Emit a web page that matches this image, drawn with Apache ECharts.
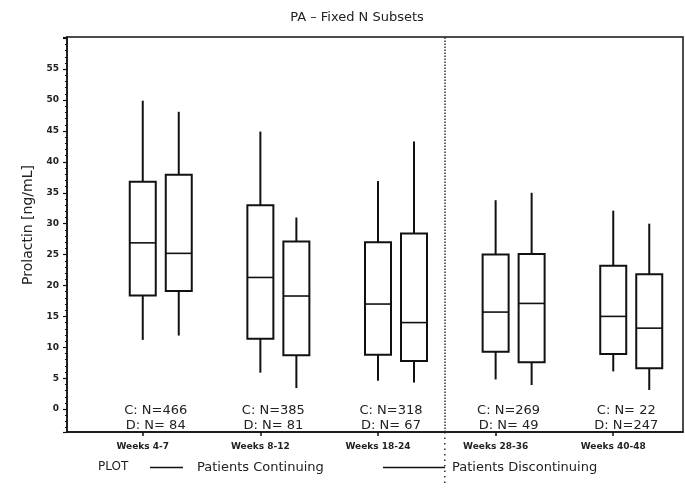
<!DOCTYPE html>
<html><head><meta charset="utf-8">
<script src="https://cdn.jsdelivr.net/npm/echarts@6/dist/echarts.min.js"></script>
<style>html,body{margin:0;padding:0;background:#fff}#c{width:685px;height:492px}</style>
</head><body><div id="c"></div>
<script>
const categories = ['Weeks 4-7', 'Weeks 8-12', 'Weeks 18-24', 'Weeks 28-36', 'Weeks 40-48'];
// each box: [min, Q1, median, Q3, max]
const continuing = [
  [11.2, 18.4, 26.9, 36.8, 49.9],
  [5.9, 11.4, 21.3, 33.0, 44.9],
  [4.6, 8.8, 17.0, 27.0, 36.9],
  [4.8, 9.3, 15.7, 25.0, 33.8],
  [6.1, 8.9, 15.0, 23.2, 32.1]
];
const discontinuing = [
  [11.9, 19.1, 25.2, 37.9, 48.1],
  [3.4, 8.7, 18.3, 27.1, 31.0],
  [4.3, 7.8, 14.0, 28.4, 43.3],
  [3.9, 7.6, 17.1, 25.1, 35.0],
  [3.1, 6.6, 13.1, 21.8, 30.0]
];
const nContinuing = [466, 385, 318, 269, 22];
const nDiscontinuing = [84, 81, 67, 49, 247];
const yTickLabels = [0, 5, 10, 15, 20, 25, 30, 35, 40, 45, 50, 55];

const INK = '#111';
const FONT = 'DejaVu Sans';
const D_SHIFT_PX = 36;   // D box drawn to the right of the C box
const HALF_BOX = 13;
const DIVIDER_X = 3.568;

function boxRenderer(shiftPx) {
  return function (params, api) {
    const x = api.value(0);
    const pMin = api.coord([x, api.value(1)]);
    const pQ1 = api.coord([x, api.value(2)]);
    const pMed = api.coord([x, api.value(3)]);
    const pQ3 = api.coord([x, api.value(4)]);
    const pMax = api.coord([x, api.value(5)]);
    const cx = pMin[0] + shiftPx;
    const st = { stroke: INK, lineWidth: 2 };
    return {
      type: 'group',
      children: [
        { type: 'line', shape: { x1: cx, y1: pMin[1], x2: cx, y2: pQ1[1] }, style: st },
        { type: 'line', shape: { x1: cx, y1: pQ3[1], x2: cx, y2: pMax[1] }, style: st },
        { type: 'rect', shape: { x: cx - HALF_BOX, y: pQ3[1], width: 2 * HALF_BOX, height: pQ1[1] - pQ3[1] },
          style: { fill: '#fff', stroke: INK, lineWidth: 2 } },
        { type: 'line', shape: { x1: cx - HALF_BOX, y1: pMed[1], x2: cx + HALF_BOX, y2: pMed[1] },
          style: { stroke: INK, lineWidth: 1.6 } }
      ]
    };
  };
}

function nText(n) { return n < 100 ? 'N= ' + n : 'N=' + n; }

const chart = echarts.init(document.getElementById('c'), null, { renderer: 'canvas' });
const option = {
  animation: false,
  backgroundColor: '#fff',
  title: {
    text: 'PA \u2013 Fixed N Subsets', left: 352, top: 6, textAlign: 'center',
    textStyle: { fontFamily: FONT, fontSize: 13, fontWeight: 'normal', color: '#222' }
  },
  grid: { left: 67, right: 2, top: 37, bottom: 60, show: true, borderColor: INK, borderWidth: 1.5, backgroundColor: 'transparent' },
  xAxis: {
    type: 'value', min: 0.356, max: 5.593, splitNumber: 5,
    axisLine: { onZero: false, lineStyle: { color: INK, width: 1.5 } },
    axisTick: { show: true, length: 4, lineStyle: { color: INK, width: 1.5 } },
    splitLine: { show: false },
    axisLabel: {
      margin: 10, fontFamily: FONT, fontSize: 9, fontWeight: 'bold', color: '#222',
      showMinLabel: false, showMaxLabel: false,
      formatter: function (v) {
        const r = Math.round(v);
        return (Math.abs(v - r) < 1e-6 && r >= 1 && r <= categories.length) ? categories[r - 1] : '';
      }
    }
  },
  yAxis: {
    type: 'value', min: -3.7, max: 60.2, splitNumber: 12,
    axisLine: { show: true, onZero: false, lineStyle: { color: INK, width: 1.5 } },
    axisTick: { show: true, length: 4, lineStyle: { color: INK, width: 1.2 } },
    minorTick: { show: true, splitNumber: 5, length: 2, lineStyle: { color: INK, width: 1 } },
    splitLine: { show: false },
    axisLabel: {
      margin: 8, fontFamily: FONT, fontSize: 9, fontWeight: 'bold', color: '#222',
      formatter: function (v) {
        const r = Math.round(v);
        return (Math.abs(v - r) < 1e-6 && yTickLabels.indexOf(r) >= 0) ? String(r) : '';
      }
    }
  },
  legend: [
    { data: ['Patients Continuing'], left: 150, top: 461, padding: 0, icon: 'rect', itemWidth: 33, itemHeight: 1.5,
      textStyle: { fontFamily: FONT, fontSize: 13, color: '#222', padding: [0, 0, 0, 9] } },
    { data: ['Patients Discontinuing'], left: 383, top: 461, padding: 0, icon: 'rect', itemWidth: 62, itemHeight: 1.5,
      textStyle: { fontFamily: FONT, fontSize: 13, color: '#222', padding: [0, 0, 0, 2] } }
  ],
  graphic: [
    { type: 'text', left: 98, top: 461, style: { text: 'PLOT', fontFamily: FONT, fontSize: 12, fill: '#222' } },
    { type: 'text', x: 28, y: 225, rotation: Math.PI / 2,
      style: { text: 'Prolactin [ng/mL]', fontFamily: FONT, fontSize: 14, fill: '#222', align: 'center', verticalAlign: 'middle' } }
  ],
  series: [
    {
      name: 'Patients Continuing', type: 'custom', itemStyle: { color: INK },
      renderItem: boxRenderer(0),
      encode: { x: 0, y: [1, 2, 3, 4, 5] },
      data: continuing.map(function (b, i) { return [i + 1].concat(b); }),
      markLine: {
        silent: true, symbol: 'none', label: { show: false },
        lineStyle: { type: 'dotted', color: '#333', width: 1.5 },
        data: [{ xAxis: DIVIDER_X }]
      }
    },
    {
      name: 'Patients Discontinuing', type: 'custom', itemStyle: { color: INK },
      renderItem: boxRenderer(D_SHIFT_PX),
      encode: { x: 0, y: [1, 2, 3, 4, 5] },
      data: discontinuing.map(function (b, i) { return [i + 1].concat(b); })
    },
    {
      name: 'counts', type: 'custom', silent: true,
      encode: { x: 0, y: 1 },
      data: categories.map(function (c, i) { return [i + 1, 0]; }),
      renderItem: function (params, api) {
        const p = api.coord([api.value(0), api.value(1)]);
        const i = params.dataIndex;
        const ts = { fontFamily: FONT, fontSize: 13, fill: '#222', align: 'center', verticalAlign: 'middle' };
        return {
          type: 'group', children: [
            { type: 'text', x: p[0] + 13, y: p[1] + 1, style: Object.assign({ text: 'C: ' + nText(nContinuing[i]) }, ts) },
            { type: 'text', x: p[0] + 13, y: p[1] + 16, style: Object.assign({ text: 'D: ' + nText(nDiscontinuing[i]) }, ts) }
          ]
        };
      }
    }
  ]
};
chart.setOption(option);
const bottomPx = chart.convertToPixel({ yAxisIndex: 0 }, -3.7);
const divPx = chart.convertToPixel({ xAxisIndex: 0 }, DIVIDER_X);
chart.setOption({
  graphic: option.graphic.concat([
    { type: 'line', shape: { x1: divPx, y1: bottomPx, x2: divPx, y2: 486 },
      style: { stroke: '#333', lineWidth: 1.5, lineDash: [1.5, 4] } }
  ])
});
</script></body></html>
